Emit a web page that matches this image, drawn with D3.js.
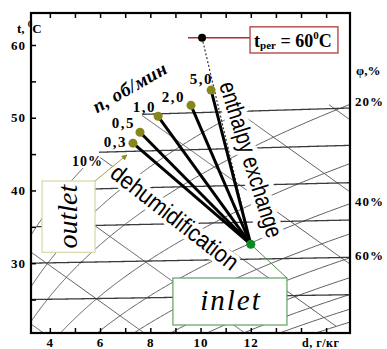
<!DOCTYPE html>
<html>
<head>
<meta charset="utf-8">
<style>
  body { margin: 0; background: #fff; }
  svg { display: block; }
  .serif { font-family: "Liberation Serif", "Times New Roman", serif; font-weight: bold; }
  .sans { font-family: "Liberation Sans", Arial, sans-serif; }
  .grid { fill: none; stroke: #5c5c5c; stroke-width: 1; }
  .iso { fill: none; stroke: #3a3a3a; stroke-width: 1.3; }
  .fan { stroke: #000; stroke-width: 3; }
  .halo { paint-order: stroke; stroke: #fff; stroke-linejoin: round; }
  .axis text { font-family: "Liberation Serif", serif; font-weight: bold; font-size: 13px; letter-spacing: 1px; fill: #000; }
  .axis line { stroke: #000; stroke-width: 1.5; }
</style>
</head>
<body>
<script src="https://d3js.org/d3.v7.min.js"></script>
<script>
var W = 387, H = 349;

// axis ticks
var dTicks = d3.range(4, 16);
var dLabels = [4, 6, 8, 10, 12];
var tTicks = [25, 30, 35, 40, 45, 50, 55, 60];
var tLabels = [30, 40, 50, 60];

// psychrometric grid levels (i-d chart)
var isotherms = [25, 30, 35, 40, 45, 50];
var enthalpies = [30, 40, 50, 60, 70, 80, 90, 100, 110, 120, 130];
var rhLevels = [10, 15, 20, 30, 40, 50, 60, 70, 80, 90, 100];
var rhLabels = [20, 40, 60];
var tTop = 50.6;     // grid drawn up to this isotherm
var rh10End = 43;    // 10% curve stops at its label

// states: inlet, outlet for each rotor speed, regeneration air
var speeds = ["0,3", "0,5", "1,0", "2,0", "5,0"];
var outD = [7.31, 7.59, 8.31, 9.62, 10.42];
var outT = [46.5, 48.0, 50.2, 51.7, 53.8];
var inletD = 12.0, inletT = 32.6;
var regenD = 10.06, regenT = 61.0;

var x = d3.scaleLinear().domain([3.25, 15.95]).range([31, 350]);
var y = d3.scaleLinear().domain([20.4, 64.4]).range([333, 13]);

var svg = d3.select("body").append("svg").attr("width", W).attr("height", H);

// ---- psychrometric helpers
var Pb = 101.325;
function psat(t) { return 0.61094 * Math.exp(17.625 * t / (t + 243.04)); }
function dAt(t, rh) { var p = rh / 100 * psat(t); return 622 * p / (Pb - p); }
function rhAt(d, t) { return 100 * d * Pb / (622 + d) / psat(t); }
function tAtI(i, d) { return (i - 2.501 * d) / (1.005 + 0.00186 * d); }
function obl(t, d) { return t * (1 + 0.0021 * (d - x.domain()[0])); }
function inside(d, t) { var r = rhAt(d, t); return t <= tTop && r >= 9.99 && r <= 100.01; }
function tFor(d, rh) {
  var lo = 0, hi = 90;
  for (var k = 0; k < 50; k++) { var m = (lo + hi) / 2; if (dAt(m, rh) < d) lo = m; else hi = m; }
  return lo;
}

svg.append("clipPath").attr("id", "plot").append("rect")
  .attr("x", x.range()[0]).attr("y", y.range()[1])
  .attr("width", x.range()[1] - x.range()[0]).attr("height", y.range()[0] - y.range()[1]);

var grid = svg.append("g").attr("clip-path", "url(#plot)");
var gline = d3.line().defined(function (p) { return p.ok; })
  .x(function (p) { return x(p.d); })
  .y(function (p) { return y(obl(p.t, p.d)); });

var dSteps = d3.range(3.0, 16.2, 0.04);
var tSteps = d3.range(10, 52, 0.1);

enthalpies.forEach(function (i) {
  grid.append("path").attr("class", "grid")
    .attr("d", gline(dSteps.map(function (d) { var t = tAtI(i, d); return { d: d, t: t, ok: inside(d, t) }; })));
});
rhLevels.forEach(function (r) {
  var tMax = r === 10 ? rh10End : tTop;
  grid.append("path").attr("class", "grid")
    .attr("d", gline(tSteps.map(function (t) { return { d: dAt(t, r), t: t, ok: t <= tMax }; })));
});
isotherms.forEach(function (t) {
  grid.append("path").attr("class", "iso")
    .attr("d", gline(dSteps.map(function (d) { return { d: d, t: t, ok: inside(d, t) }; })));
});

// ---- frame and axes
svg.append("g").attr("class", "axis").attr("transform", "translate(0," + y.range()[0] + ")")
  .call(d3.axisBottom(x).tickValues(dTicks).tickSize(-5).tickPadding(5)
    .tickFormat(function (d) { return dLabels.indexOf(d) >= 0 ? d : ""; }))
  .call(function (g) { g.select(".domain").remove(); });
svg.append("g").attr("class", "axis").attr("transform", "translate(0," + y.range()[1] + ")")
  .call(d3.axisTop(x).tickValues(dTicks).tickSize(-5).tickFormat(""))
  .call(function (g) { g.select(".domain").remove(); });
svg.append("g").attr("class", "axis").attr("transform", "translate(" + x.range()[0] + ",0)")
  .call(d3.axisLeft(y).tickValues(tTicks).tickSize(-5).tickPadding(5)
    .tickFormat(function (t) { return tLabels.indexOf(t) >= 0 ? t : ""; }))
  .call(function (g) { g.select(".domain").remove(); });

svg.append("rect")
  .attr("x", x.range()[0]).attr("y", y.range()[1])
  .attr("width", x.range()[1] - x.range()[0]).attr("height", y.range()[0] - y.range()[1])
  .attr("fill", "none").attr("stroke", "#000").attr("stroke-width", 2.2);

// axis titles
var tt = svg.append("text").attr("class", "serif").attr("font-size", 13)
  .attr("x", x(2.69)).attr("y", y(61.65));
tt.append("tspan").text("t, ");
tt.append("tspan").attr("font-size", 9).attr("dy", -6).text("0");
tt.append("tspan").attr("dy", 6).text("C");

svg.append("text").attr("class", "serif").attr("font-size", 12).attr("letter-spacing", 0.5)
  .attr("x", x(14.04)).attr("y", y(18.5)).text("d, г/кг");

svg.append("text").attr("class", "serif").attr("font-size", 13)
  .attr("x", x(16.19)).attr("y", y(55.87)).text("φ,%");

rhLabels.forEach(function (r) {
  var dR = x.domain()[1];
  svg.append("text").attr("class", "serif").attr("font-size", 13).attr("letter-spacing", 1)
    .attr("x", x(16.15)).attr("y", y(obl(tFor(dR, r), dR)) + 2).text(r + "%");
});

// ---- annotations over the grid
function P(d, t) { return [x(d), y(t)]; }

var c1 = P(8.95, 36.2);
svg.append("text").attr("class", "sans halo").attr("font-size", 24)
  .attr("stroke-width", 8)
  .attr("text-anchor", "middle").attr("dy", "0.3em")
  .attr("textLength", 155).attr("lengthAdjust", "spacingAndGlyphs")
  .attr("transform", "translate(" + c1 + ") rotate(38)")
  .text("dehumidification");

var c2 = P(11.97, 44.2);
svg.append("text").attr("class", "sans halo").attr("font-size", 24)
  .attr("stroke-width", 10)
  .attr("text-anchor", "middle").attr("dy", "0.3em")
  .attr("textLength", 162).attr("lengthAdjust", "spacingAndGlyphs")
  .attr("transform", "translate(" + c2 + ") rotate(72.6)")
  .text("enthalpy exchange");

var c3 = P(7.19, 54.1);
svg.append("text").attr("class", "serif halo").attr("font-size", 19).attr("font-style", "italic")
  .attr("stroke-width", 4).attr("letter-spacing", 0.5)
  .attr("text-anchor", "middle").attr("dy", "0.3em")
  .attr("transform", "translate(" + c3 + ") rotate(-30)")
  .text("п,   об/мин");

svg.append("text").attr("class", "serif halo").attr("font-size", 14).attr("letter-spacing", 1)
  .attr("stroke-width", 4)
  .attr("x", x(4.88)).attr("y", y(43.4)).text("10%");

// outlet box
var o0 = P(3.69, 41.3), o1 = P(5.80, 31.5);
svg.append("rect").attr("x", o0[0]).attr("y", o0[1])
  .attr("width", o1[0] - o0[0]).attr("height", o1[1] - o0[1])
  .attr("fill", "#fff").attr("stroke", "#d6d6a4").attr("stroke-width", 1.2);
svg.append("text").attr("class", "serif").style("font-weight", "normal").attr("font-style", "italic")
  .attr("font-size", 28).attr("text-anchor", "middle").attr("dy", "0.28em")
  .attr("transform", "translate(" + [(o0[0] + o1[0]) / 2 + 1, (o0[1] + o1[1]) / 2] + ") rotate(-90)")
  .text("outlet");

// inlet box
var b0 = P(8.90, 27.96), b1 = P(13.44, 21.5);
svg.append("rect").attr("x", b0[0]).attr("y", b0[1])
  .attr("width", b1[0] - b0[0]).attr("height", b1[1] - b0[1])
  .attr("fill", "#fff").attr("stroke", "#62a062").attr("stroke-width", 1.2);
svg.append("text").attr("class", "serif").style("font-weight", "normal").attr("font-style", "italic")
  .attr("font-size", 29).attr("letter-spacing", 2).attr("text-anchor", "middle")
  .attr("x", (b0[0] + b1[0]) / 2 + 1).attr("y", (b0[1] + b1[1]) / 2 + 8)
  .text("inlet");

// t_per box and red guide
var r0 = P(11.97, 62.5), r1 = P(15.47, 58.9);
svg.append("line")
  .attr("x1", x(9.5)).attr("y1", y(regenT)).attr("x2", r0[0]).attr("y2", y(regenT))
  .attr("stroke", "#b42a2a").attr("stroke-width", 1.5);
svg.append("rect").attr("x", r0[0]).attr("y", r0[1])
  .attr("width", r1[0] - r0[0]).attr("height", r1[1] - r0[1])
  .attr("fill", "#fff").attr("stroke", "#b44a4a").attr("stroke-width", 1.4);
var tp = svg.append("text").attr("class", "serif").attr("font-size", 18)
  .attr("x", r0[0] + 4).attr("y", r1[1] - 6);
tp.append("tspan").text("t");
tp.append("tspan").attr("font-size", 11).attr("dy", 2).text("per");
tp.append("tspan").attr("dy", -2).text(" = 60");
tp.append("tspan").attr("font-size", 11).attr("dy", -8).text("0");
tp.append("tspan").attr("dy", 8).text("C");

// connectors
svg.append("defs").append("marker").attr("id", "arr")
  .attr("viewBox", "0 0 10 10").attr("refX", 9).attr("refY", 5)
  .attr("markerWidth", 6).attr("markerHeight", 6).attr("orient", "auto")
  .append("path").attr("d", "M0,0 L10,5 L0,10 z").attr("fill", "#8c8c2c");
svg.append("line")
  .attr("x1", o1[0]).attr("y1", o0[1]).attr("x2", x(7.07)).attr("y2", y(44.9))
  .attr("stroke", "#a0a050").attr("stroke-width", 1).attr("marker-end", "url(#arr)");
svg.append("line")
  .attr("x1", x(inletD)).attr("y1", y(inletT)).attr("x2", b1[0]).attr("y2", b0[1])
  .attr("stroke", "#4f8f4f").attr("stroke-width", 1);

// dotted line regeneration -> inlet
svg.append("line")
  .attr("x1", x(regenD)).attr("y1", y(regenT)).attr("x2", x(inletD)).attr("y2", y(inletT))
  .attr("stroke", "#333").attr("stroke-width", 1.2).attr("stroke-dasharray", "2,2");

// process lines
svg.append("g").selectAll("line").data(outD).enter().append("line")
  .attr("class", "fan")
  .attr("x1", x(inletD)).attr("y1", y(inletT))
  .attr("x2", function (d) { return x(d); })
  .attr("y2", function (d, i) { return y(outT[i]); });

svg.append("g").selectAll("circle").data(outD).enter().append("circle")
  .attr("cx", function (d) { return x(d); })
  .attr("cy", function (d, i) { return y(outT[i]); })
  .attr("r", 4.5).attr("fill", "#86861c");

svg.append("circle").attr("cx", x(inletD)).attr("cy", y(inletT)).attr("r", 4.5).attr("fill", "#0b8a22");
svg.append("circle").attr("cx", x(regenD)).attr("cy", y(regenT)).attr("r", 4).attr("fill", "#000");

// speed labels
var lblDx = [-6, -5, -2, -6, 2];
var lblDy = [4, -4, -4, -3, -6];
svg.append("g").selectAll("text").data(speeds).enter().append("text")
  .attr("class", "serif").attr("font-size", 15).attr("letter-spacing", 1.5)
  .attr("text-anchor", "end")
  .attr("x", function (s, i) { return x(outD[i]) + lblDx[i]; })
  .attr("y", function (s, i) { return y(outT[i]) + lblDy[i]; })
  .text(function (s) { return s; });
</script>
</body>
</html>
